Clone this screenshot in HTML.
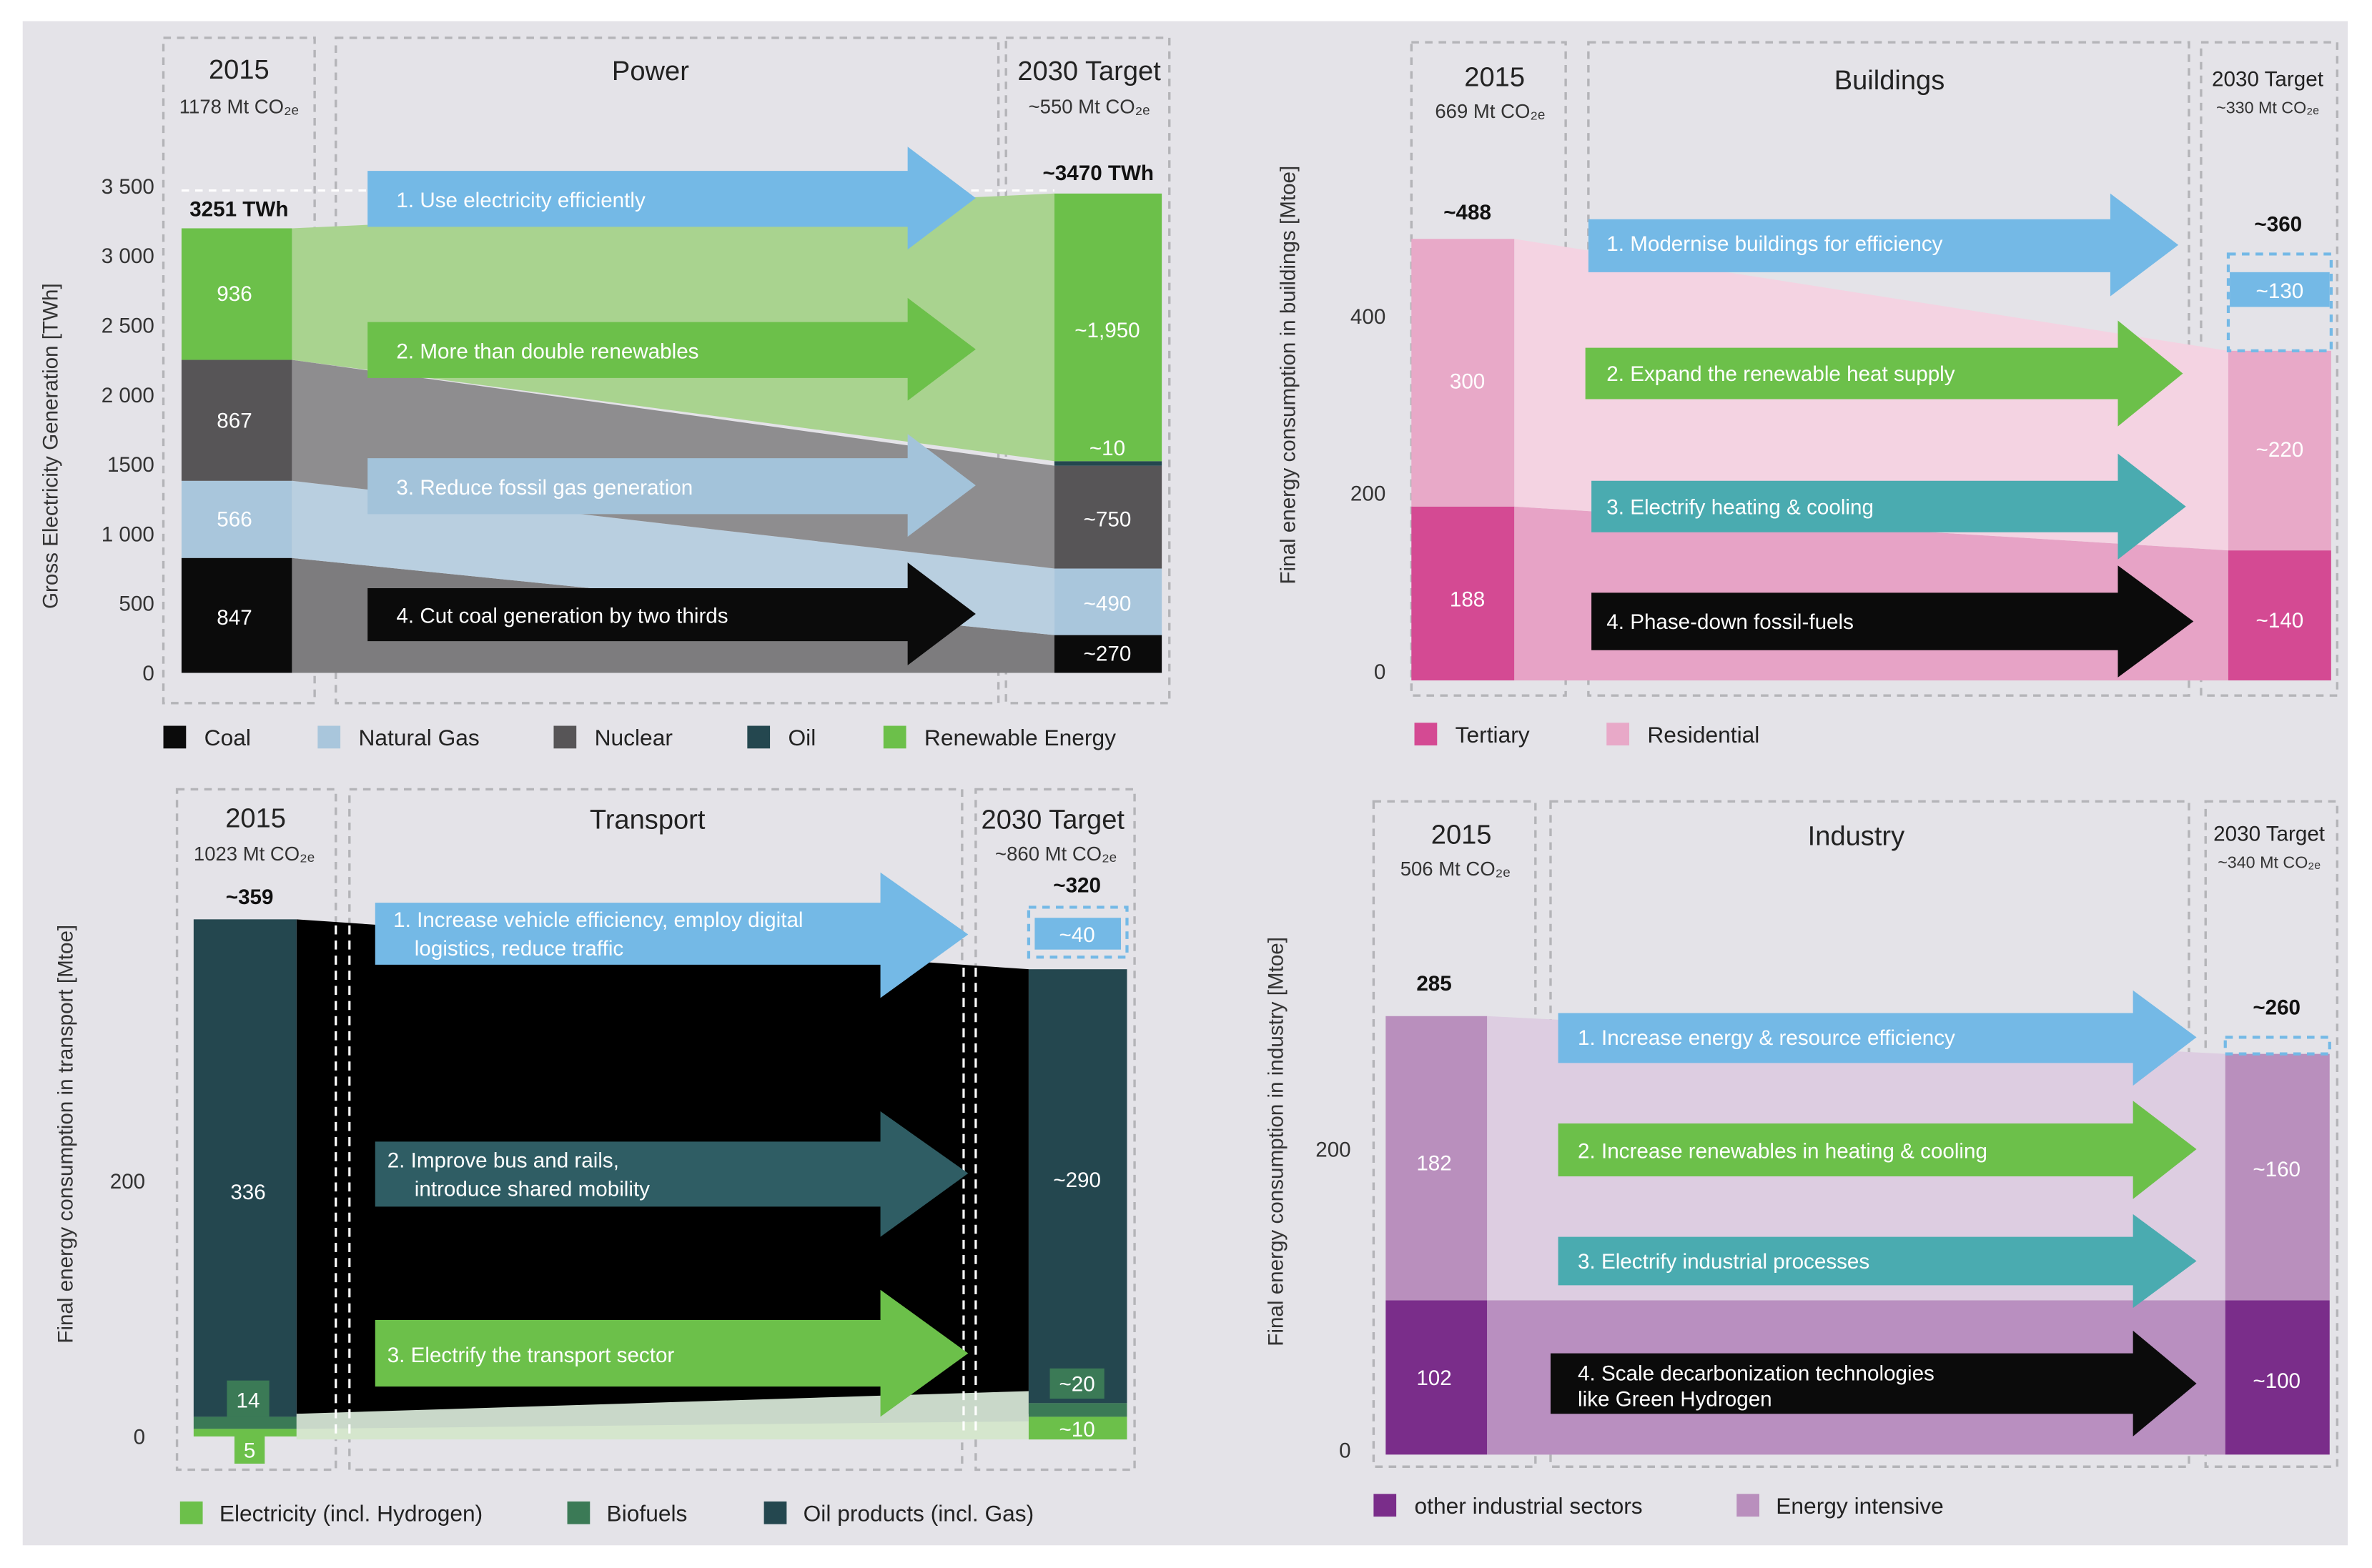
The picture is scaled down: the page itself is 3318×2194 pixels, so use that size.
<!DOCTYPE html>
<html><head><meta charset="utf-8"><style>
html,body{margin:0;padding:0;background:#fff;}
svg{display:block;width:3318px;height:2194px;}
text{font-family:"Liberation Sans",sans-serif;}
.w{fill:#fff;font-size:14px;}
.lab{fill:#222;font-size:15px;}
.hd{fill:#222;font-size:18px;}
.sm{fill:#333;font-size:13px;}
.ax{fill:#333;font-size:14px;}
.db{fill:none;stroke:#b4b4b8;stroke-width:1.6;stroke-dasharray:5,4;}
</style></head><body>
<svg viewBox="0 0 1568 1037" preserveAspectRatio="none" xmlns="http://www.w3.org/2000/svg">
<rect x="0" y="0" width="1568" height="1037" fill="#fff"/>
<rect x="15" y="14" width="1537" height="1008" fill="#e4e3e8"/>

<!-- ============ POWER ============ -->
<rect class="db" x="108" y="25" width="100" height="440"/>
<rect class="db" x="222" y="25" width="438" height="440"/>
<rect class="db" x="665" y="25" width="108" height="440"/>
<text class="hd" x="158" y="52" text-anchor="middle">2015</text>
<text class="sm" x="158" y="75" text-anchor="middle">1178 Mt CO₂ₑ</text>
<text class="hd" x="430" y="53" text-anchor="middle">Power</text>
<text class="hd" x="720" y="53" text-anchor="middle">2030 Target</text>
<text class="sm" x="720" y="75" text-anchor="middle">~550 Mt CO₂ₑ</text>
<g class="ax" text-anchor="end">
<text x="102" y="128">3 500</text><text x="102" y="174">3 000</text><text x="102" y="220">2 500</text>
<text x="102" y="266">2 000</text><text x="102" y="312">1500</text><text x="102" y="358">1 000</text>
<text x="102" y="404">500</text><text x="102" y="450">0</text></g>
<text class="ax" transform="translate(38,295) rotate(-90)" text-anchor="middle">Gross Electricity Generation [TWh]</text>
<line x1="120" y1="126" x2="697" y2="126" stroke="#fff" stroke-width="1.5" stroke-dasharray="5,4"/>
<!-- flows -->
<polygon points="193,369 697,420 697,445 193,445" fill="#7d7c7e"/>
<polygon points="193,318 697,376 697,420 193,369" fill="#b9cfe0"/>
<polygon points="193,238 697,308 697,376 193,318" fill="#8e8d8f"/>
<polygon points="193,151 697,128 697,305 193,238" fill="#a9d38f"/>
<!-- bars -->
<rect x="120" y="369" width="73" height="76" fill="#0b0b0b"/>
<rect x="120" y="318" width="73" height="51" fill="#a9c6dc"/>
<rect x="120" y="238" width="73" height="80" fill="#575557"/>
<rect x="120" y="151" width="73" height="87" fill="#6cc04a"/>
<rect x="697" y="420" width="71" height="25" fill="#0b0b0b"/>
<rect x="697" y="376" width="71" height="44" fill="#a9c6dc"/>
<rect x="697" y="308" width="71" height="68" fill="#575557"/>
<rect x="697" y="305" width="71" height="3" fill="#24474f"/>
<rect x="697" y="128" width="71" height="177" fill="#6cc04a"/>
<g class="w" text-anchor="middle">
<text x="155" y="413">847</text><text x="155" y="348">566</text><text x="155" y="283">867</text><text x="155" y="199">936</text>
<text x="732" y="437">~270</text><text x="732" y="404">~490</text><text x="732" y="348">~750</text><text x="732" y="301">~10</text><text x="732" y="223">~1,950</text></g>
<text x="158" y="143" text-anchor="middle" style="font-size:14px;font-weight:bold;fill:#111">3251 TWh</text>
<text x="726" y="119" text-anchor="middle" style="font-size:14px;font-weight:bold;fill:#111">~3470 TWh</text>
<!-- arrows -->
<polygon points="243,113 600,113 600,97 645,131 600,165 600,150 243,150" fill="#74b9e6"/>
<polygon points="243,213 600,213 600,197 645,231 600,265 600,250 243,250" fill="#6cc04a"/>
<polygon points="243,303 600,303 600,287 645,321 600,355 600,340 243,340" fill="#a3c3da"/>
<polygon points="243,389 600,389 600,372 645,406 600,440 600,424 243,424" fill="#0b0b0b"/>
<g class="w"><text x="262" y="137">1. Use electricity efficiently</text>
<text x="262" y="237">2. More than double renewables</text>
<text x="262" y="327">3. Reduce fossil gas generation</text>
<text x="262" y="412">4. Cut coal generation by two thirds</text></g>
<!-- legend -->
<g class="lab">
<rect x="108" y="480" width="15" height="15" fill="#0b0b0b"/><text x="135" y="493">Coal</text>
<rect x="210" y="480" width="15" height="15" fill="#a9c6dc"/><text x="237" y="493">Natural Gas</text>
<rect x="366" y="480" width="15" height="15" fill="#575557"/><text x="393" y="493">Nuclear</text>
<rect x="494" y="480" width="15" height="15" fill="#24474f"/><text x="521" y="493">Oil</text>
<rect x="584" y="480" width="15" height="15" fill="#6cc04a"/><text x="611" y="493">Renewable Energy</text></g>

<!-- ============ BUILDINGS ============ -->
<rect class="db" x="933" y="28" width="102" height="432"/>
<rect class="db" x="1050" y="28" width="397" height="432"/>
<rect class="db" x="1455" y="28" width="90" height="432"/>
<text class="hd" x="988" y="57" text-anchor="middle">2015</text>
<text class="sm" x="985" y="78" text-anchor="middle">669 Mt CO₂ₑ</text>
<text class="hd" x="1249" y="59" text-anchor="middle">Buildings</text>
<text x="1499" y="57" text-anchor="middle" style="font-size:14px;fill:#222">2030 Target</text>
<text x="1499" y="75" text-anchor="middle" style="font-size:11px;fill:#333">~330 Mt CO₂ₑ</text>
<g class="ax" text-anchor="end"><text x="916" y="214">400</text><text x="916" y="331">200</text><text x="916" y="449">0</text></g>
<text class="ax" transform="translate(856,248) rotate(-90)" text-anchor="middle">Final energy consumption in buildings [Mtoe]</text>
<polygon points="1001,335 1473,364 1473,450 1001,450" fill="#e7a3c6"/>
<polygon points="1001,158 1473,232 1473,364 1001,335" fill="#f4d3e2"/>
<rect x="933" y="335" width="68" height="115" fill="#d44a93"/>
<rect x="933" y="158" width="68" height="177" fill="#e8a9c8"/>
<rect x="1473" y="364" width="68" height="86" fill="#d44a93"/>
<rect x="1473" y="232" width="68" height="132" fill="#e8a9c8"/>
<rect x="1473" y="168" width="68" height="64" fill="none" stroke="#74b9e6" stroke-width="2" stroke-dasharray="5,4"/>
<rect x="1474" y="180" width="66" height="23" fill="#74b9e6"/>
<text x="970" y="145" text-anchor="middle" style="font-size:14px;font-weight:bold;fill:#111">~488</text>
<text x="1506" y="153" text-anchor="middle" style="font-size:14px;font-weight:bold;fill:#111">~360</text>
<g class="w" text-anchor="middle"><text x="970" y="257">300</text><text x="970" y="401">188</text>
<text x="1507" y="197">~130</text><text x="1507" y="302">~220</text><text x="1507" y="415">~140</text></g>
<polygon points="1050,145 1395,145 1395,128 1440,162 1395,196 1395,180 1050,180" fill="#74b9e6"/>
<polygon points="1048,230 1400,230 1400,212 1443,247 1400,282 1400,264 1048,264" fill="#6cc04a"/>
<polygon points="1052,318 1400,318 1400,300 1445,335 1400,370 1400,352 1052,352" fill="#4aabb0"/>
<polygon points="1052,392 1400,392 1400,374 1450,411 1400,448 1400,430 1052,430" fill="#0b0b0b"/>
<g class="w"><text x="1062" y="166">1. Modernise buildings for efficiency</text>
<text x="1062" y="252">2. Expand the renewable heat supply</text>
<text x="1062" y="340">3. Electrify heating &amp; cooling</text>
<text x="1062" y="416">4. Phase-down fossil-fuels</text></g>
<g class="lab"><rect x="935" y="478" width="15" height="15" fill="#d44a93"/><text x="962" y="491">Tertiary</text>
<rect x="1062" y="478" width="15" height="15" fill="#e8a9c8"/><text x="1089" y="491">Residential</text></g>

<!-- ============ TRANSPORT ============ -->
<rect class="db" x="117" y="522" width="105" height="450"/>
<rect class="db" x="231" y="522" width="405" height="450"/>
<rect class="db" x="645" y="522" width="105" height="450"/>
<text class="hd" x="169" y="547" text-anchor="middle">2015</text>
<text class="sm" x="168" y="569" text-anchor="middle">1023 Mt CO₂ₑ</text>
<text class="hd" x="428" y="548" text-anchor="middle">Transport</text>
<text class="hd" x="696" y="548" text-anchor="middle">2030 Target</text>
<text class="sm" x="698" y="569" text-anchor="middle">~860 Mt CO₂ₑ</text>
<g class="ax" text-anchor="end"><text x="96" y="786">200</text><text x="96" y="955">0</text></g>
<text class="ax" transform="translate(48,750) rotate(-90)" text-anchor="middle">Final energy consumption in transport [Mtoe]</text>
<polygon points="196,608 680,641 680,935 196,935" fill="#000"/>
<polygon points="196,935 680,920 680,945 196,950" fill="#c9d8c9"/>
<polygon points="196,945 680,940 680,952 196,952" fill="#d5e6cd"/>
<g stroke="#fff" stroke-width="1.5" stroke-dasharray="6,4">
<line x1="222" y1="612" x2="222" y2="948"/><line x1="231" y1="612" x2="231" y2="948"/>
<line x1="637" y1="640" x2="637" y2="948"/><line x1="645" y1="640" x2="645" y2="948"/></g>
<rect x="128" y="608" width="68" height="329" fill="#24474f"/>
<rect x="128" y="937" width="68" height="8" fill="#3b7a56"/>
<rect x="128" y="945" width="68" height="5" fill="#6cc04a"/>
<rect x="150" y="913" width="28" height="24" fill="#3b7a56"/>
<rect x="155" y="947" width="20" height="21" fill="#6cc04a"/>
<rect x="680" y="641" width="65" height="287" fill="#24474f"/>
<rect x="680" y="928" width="65" height="9" fill="#3b7a56"/>
<rect x="680" y="937" width="65" height="15" fill="#6cc04a"/>
<rect x="694" y="905" width="36" height="20" fill="#3b7a56"/>
<rect x="680" y="600" width="65" height="33" fill="none" stroke="#74b9e6" stroke-width="2" stroke-dasharray="5,4"/>
<rect x="684" y="607" width="57" height="21" fill="#74b9e6"/>
<text x="165" y="598" text-anchor="middle" style="font-size:14px;font-weight:bold;fill:#111">~359</text>
<text x="712" y="590" text-anchor="middle" style="font-size:14px;font-weight:bold;fill:#111">~320</text>
<g class="w" text-anchor="middle"><text x="164" y="793">336</text><text x="164" y="931">14</text><text x="165" y="964">5</text>
<text x="712" y="623">~40</text><text x="712" y="785">~290</text><text x="712" y="920">~20</text><text x="712" y="950">~10</text></g>
<polygon points="248,597 582,597 582,577 640,618 582,660 582,638 248,638" fill="#74b9e6"/>
<polygon points="248,755 582,755 582,735 640,776 582,818 582,798 248,798" fill="#2f5d64"/>
<polygon points="248,873 582,873 582,853 640,895 582,937 582,917 248,917" fill="#6cc04a"/>
<g class="w"><text x="260" y="613">1. Increase vehicle efficiency, employ digital</text>
<text x="274" y="632">logistics, reduce traffic</text>
<text x="256" y="772">2. Improve bus and rails,</text>
<text x="274" y="791">introduce shared mobility</text>
<text x="256" y="901">3. Electrify the transport sector</text></g>
<g class="lab"><rect x="119" y="993" width="15" height="15" fill="#6cc04a"/><text x="145" y="1006">Electricity (incl. Hydrogen)</text>
<rect x="375" y="993" width="15" height="15" fill="#3b7a56"/><text x="401" y="1006">Biofuels</text>
<rect x="505" y="993" width="15" height="15" fill="#24474f"/><text x="531" y="1006">Oil products (incl. Gas)</text></g>

<!-- ============ INDUSTRY ============ -->
<rect class="db" x="908" y="530" width="107" height="440"/>
<rect class="db" x="1025" y="530" width="422" height="440"/>
<rect class="db" x="1458" y="530" width="87" height="440"/>
<text class="hd" x="966" y="558" text-anchor="middle">2015</text>
<text class="sm" x="962" y="579" text-anchor="middle">506 Mt CO₂ₑ</text>
<text class="hd" x="1227" y="559" text-anchor="middle">Industry</text>
<text x="1500" y="556" text-anchor="middle" style="font-size:14px;fill:#222">2030 Target</text>
<text x="1500" y="574" text-anchor="middle" style="font-size:11px;fill:#333">~340 Mt CO₂ₑ</text>
<g class="ax" text-anchor="end"><text x="893" y="765">200</text><text x="893" y="964">0</text></g>
<text class="ax" transform="translate(848,755) rotate(-90)" text-anchor="middle">Final energy consumption in industry [Mtoe]</text>
<polygon points="983,860 1471,860 1471,962 983,962" fill="#b98fc0"/>
<polygon points="983,672 1471,697 1471,860 983,860" fill="#ddcde1"/>
<rect x="916" y="860" width="67" height="102" fill="#7a2d8a"/>
<rect x="916" y="672" width="67" height="188" fill="#b98fbd"/>
<rect x="1471" y="860" width="69" height="102" fill="#7a2d8a"/>
<rect x="1471" y="697" width="69" height="163" fill="#b98fbd"/>
<rect x="1471" y="686" width="69" height="11" fill="none" stroke="#74b9e6" stroke-width="2" stroke-dasharray="5,4"/>
<text x="948" y="655" text-anchor="middle" style="font-size:14px;font-weight:bold;fill:#111">285</text>
<text x="1505" y="671" text-anchor="middle" style="font-size:14px;font-weight:bold;fill:#111">~260</text>
<g class="w" text-anchor="middle"><text x="948" y="774">182</text><text x="948" y="916">102</text>
<text x="1505" y="778">~160</text><text x="1505" y="918">~100</text></g>
<polygon points="1030,670 1410,670 1410,655 1452,686 1410,718 1410,703 1030,703" fill="#74b9e6"/>
<polygon points="1030,743 1410,743 1410,728 1452,760 1410,793 1410,778 1030,778" fill="#6cc04a"/>
<polygon points="1030,818 1410,818 1410,803 1452,834 1410,865 1410,850 1030,850" fill="#4aabb0"/>
<polygon points="1025,895 1410,895 1410,880 1452,915 1410,950 1410,935 1025,935" fill="#0b0b0b"/>
<g class="w"><text x="1043" y="691">1. Increase energy &amp; resource efficiency</text>
<text x="1043" y="766">2. Increase renewables in heating &amp; cooling</text>
<text x="1043" y="839">3. Electrify industrial processes</text>
<text x="1043" y="913">4. Scale decarbonization technologies</text>
<text x="1043" y="930">like Green Hydrogen</text></g>
<g class="lab"><rect x="908" y="988" width="15" height="15" fill="#7a2d8a"/><text x="935" y="1001">other industrial sectors</text>
<rect x="1148" y="988" width="15" height="15" fill="#b98fbd"/><text x="1174" y="1001">Energy intensive</text></g>
</svg>
</body></html>
